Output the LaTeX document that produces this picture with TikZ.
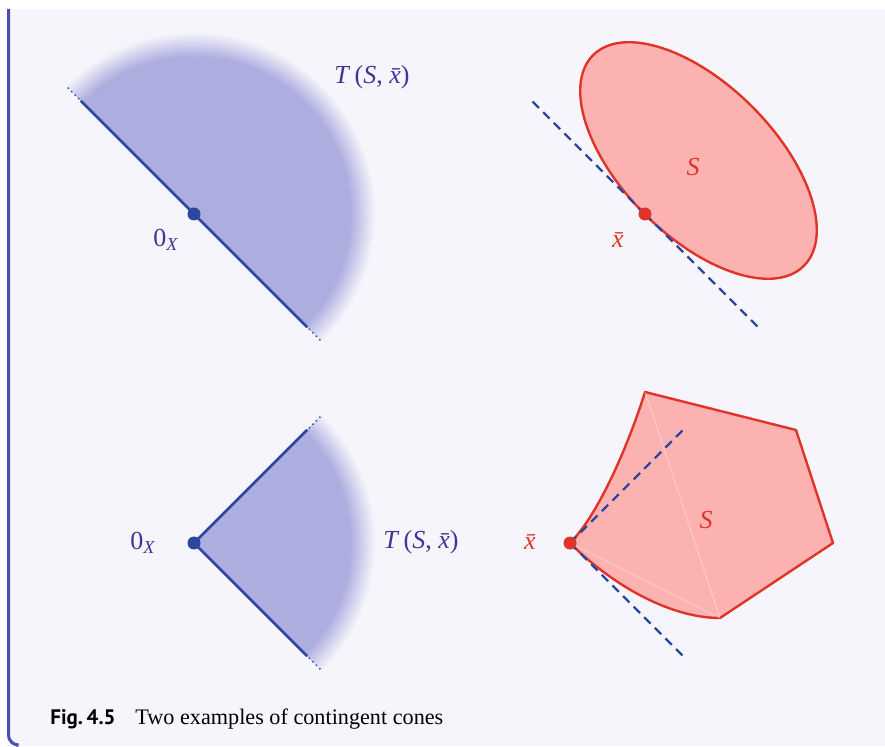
\documentclass[tikz,border=0pt]{standalone}
\usepackage{fontspec}
\setmainfont{Liberation Serif}
\newfontfamily\figfont{PT Sans}
\usetikzlibrary{positioning,calc}

\definecolor{panelbg}{RGB}{246,245,251}
\definecolor{framebar}{RGB}{74,78,176}
\definecolor{conefill}{RGB}{173,173,224}
\definecolor{coneline}{RGB}{45,70,160}
\definecolor{conelabel}{RGB}{64,52,152}
\definecolor{setfill}{RGB}{253,178,178}
\definecolor{setline}{RGB}{224,52,40}

\newcommand{\zerox}{0\textsubscript{\itshape X}}
\newcommand{\tcone}{\textit{T}\,(\textit{S}, {\itshape\=x})}

\begin{document}
\begin{tikzpicture}[x=0.5pt, y=0.5pt,
  rayline/.style={coneline, line width=1.25pt},
  raydots/.style={coneline, line width=1pt, line cap=round, dash pattern=on 0pt off 2.5pt},
  tangent/.style={coneline, line width=1.2pt, dash pattern=on 4.5pt off 3pt},
  setedge/.style={setline, line width=1.2pt, fill=setfill, line join=round},
  conelbl/.style={text=conelabel, font=\fontsize{13}{15}\selectfont},
  setlbl/.style={text=setline, font=\fontsize{13}{15}\selectfont\itshape},
  apex/.style={circle, fill=coneline, inner sep=0pt, minimum size=6.5pt},
  setpt/.style={circle, fill=setline, inner sep=0pt, minimum size=6.5pt}]
  \useasboundingbox (0,0) rectangle (885,746);
  \fill[white] (0,0) rectangle (885,746);
  \fill[panelbg] (7,0) rectangle (885,737);
  \draw[framebar, line width=1.5pt, rounded corners=5] (8.5,737) -- (8.5,1) -- (16,1);

  % top left: half-plane cone
  \coordinate (o1) at (194,532);
  \foreach \k in {0,...,15} {
    \pgfmathsetmacro\r{181-1.5*\k}
    \pgfmathtruncatemacro\p{5+6*\k}
    \fill[conefill!\p!panelbg] (o1) -- ++(-45:\r) arc[start angle=-45, end angle=135, radius=\r] -- cycle;
  }
  \fill[conefill] (o1) -- ++(-45:157) arc[start angle=-45, end angle=135, radius=157] -- cycle;
  \draw[rayline] (o1) -- +(135:160) (o1) -- +(-45:160);
  \draw[raydots] ($(o1)+(135:163)$) -- +(135:18);
  \draw[raydots] ($(o1)+(-45:163)$) -- +(-45:18);
  \node[apex] (o1dot) at (o1) {};
  \node[conelbl] (zero1) at (166,506) {\zerox};
  \node[conelbl] (tcone1) at (372,669) {\tcone};

  % top right: ellipse
  \coordinate (c1) at (698.5,585.5);
  \coordinate (xb1) at (645,532);
  \draw[setedge] (c1) ellipse[x radius=149, y radius=76, rotate=-45];
  \draw[tangent] (xb1) -- +(135:160) (xb1) -- +(-45:160);
  \node[setpt] (xb1dot) at (xb1) {};
  \node[setlbl] (set1) at (693,579) {S};
  \node[setlbl] (xbar1) at (618,506) {\=x};

  % bottom left: angular cone
  \coordinate (o2) at (194,203);
  \foreach \k in {0,...,15} {
    \pgfmathsetmacro\r{181-1.5*\k}
    \pgfmathtruncatemacro\p{5+6*\k}
    \fill[conefill!\p!panelbg] (o2) -- ++(-45:\r) arc[start angle=-45, end angle=45, radius=\r] -- cycle;
  }
  \fill[conefill] (o2) -- ++(-45:157) arc[start angle=-45, end angle=45, radius=157] -- cycle;
  \draw[rayline] (o2) -- +(45:160) (o2) -- +(-45:160);
  \draw[raydots] ($(o2)+(45:163)$) -- +(45:18);
  \draw[raydots] ($(o2)+(-45:163)$) -- +(-45:18);
  \node[apex] (o2dot) at (o2) {};
  \node[conelbl] (zero2) at (143,203) {\zerox};
  \node[conelbl] (tcone2) at (421,204) {\tcone};

  % bottom right: set with a corner
  \coordinate (xb2) at (570,203);
  \coordinate (p1) at (645,354);
  \coordinate (p2) at (796,316);
  \coordinate (p3) at (833,203);
  \coordinate (p4) at (720,128);
  \draw[setedge] (xb2) .. controls (600,233) and (630,306) .. (p1) -- (p2) -- (p3) -- (p4)
    .. controls (670,128) and (612,161) .. (xb2) -- cycle;
  \draw[white, opacity=0.5, line width=0.3pt] (p1) -- (p4) -- (xb2);
  \draw[tangent] (xb2) -- +(45:160) (xb2) -- +(-45:160);
  \node[setpt] (xb2dot) at (xb2) {};
  \node[setlbl] (set2) at (706,226) {S};
  \node[setlbl] (xbar2) at (530,204) {\=x};

  % caption
  \node[anchor=base west, inner sep=0pt, font=\figfont\bfseries\fontsize{10.5}{12}\selectfont] (figno) at (50,22) {Fig.\,4.5};
  \node[anchor=base west, inner sep=0pt, font=\fontsize{11.1}{13}\selectfont] (figcap) at (135,22) {Two examples of contingent cones};
\end{tikzpicture}
\end{document}
